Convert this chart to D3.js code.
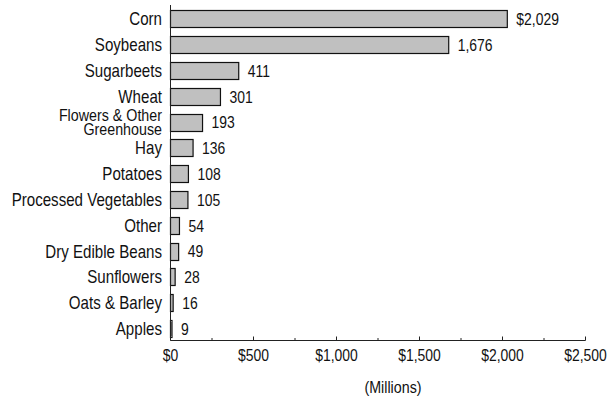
<!DOCTYPE html>
<html><head><meta charset="utf-8">
<script src="https://cdn.jsdelivr.net/npm/d3@7"></script>
<style>
html,body{margin:0;padding:0;background:#fff;}
svg text{font-family:"Liberation Sans",Arial,sans-serif;fill:#111;}
</style></head>
<body><svg id="c" width="608" height="401"></svg>
<script>
const categories = ["Corn","Soybeans","Sugarbeets","Wheat","Flowers & Other\nGreenhouse","Hay","Potatoes","Processed Vegetables","Other","Dry Edible Beans","Sunflowers","Oats & Barley","Apples"];
const values = [2029,1676,411,301,193,136,108,105,54,49,28,16,9];
const valueLabels = ["$2,029","1,676","411","301","193","136","108","105","54","49","28","16","9"];
const tickValues = [0,500,1000,1500,2000,2500];
const tickLabels = ["$0","$500","$1,000","$1,500","$2,000","$2,500"];
const minorTicks = [250,750,1250,1750,2250];
const axisTitle = "(Millions)";

const svg = d3.select("#c");
const x = d3.scaleLinear().domain([0,2500]).range([170.5,585.5]);
const y = d3.scaleBand().domain(categories).range([6.1,341.5]).paddingInner(0.33).paddingOuter(0.165);
const axisY = 340.5;
const SX = 0.82;

// bars
svg.append("g").selectAll("rect").data(values).join("rect")
  .attr("x", x(0))
  .attr("y", (d,i)=>Math.round(y(categories[i]))+0.5)
  .attr("width", d=>x(d)-x(0))
  .attr("height", Math.round(y.bandwidth()))
  .attr("fill","#c0c0c0").attr("stroke","#111").attr("stroke-width",1.2);

// value labels
svg.append("g").selectAll("text").data(values).join("text")
  .attr("transform", (d,i)=>`translate(${x(d)+9},${y(categories[i])+y.bandwidth()/2}) scale(${SX},1)`)
  .attr("dy","0.36em")
  .attr("font-size",17)
  .text((d,i)=>valueLabels[i]);

// category labels
const cl = svg.append("g").selectAll("text").data(categories).join("text")
  .attr("transform", d=>`translate(162,${y(d)+y.bandwidth()/2}) scale(0.84,1)`)
  .attr("text-anchor","end")
  .attr("font-size", d=>d.includes("\n") ? 17 : 18);
cl.each(function(d){
  const lines = d.split("\n");
  const t = d3.select(this);
  const fs = lines.length>1 ? 17 : 18;
  const lh = 14;
  lines.forEach((ln,j)=>{
    t.append("tspan").attr("x",0)
      .attr("dy", j===0 ? (0.36*fs - (lines.length-1)*lh/2)+"px" : lh+"px")
      .text(ln);
  });
});

// axes lines
svg.append("line").attr("x1",x(0)).attr("x2",x(0)).attr("y1",5).attr("y2",axisY).attr("stroke","#222").attr("stroke-width",1);
svg.append("line").attr("x1",x(0)).attr("x2",x(2500)).attr("y1",axisY).attr("y2",axisY).attr("stroke","#222").attr("stroke-width",1);

// ticks
svg.append("g").selectAll("line").data(tickValues).join("line")
  .attr("x1",d=>x(d)).attr("x2",d=>x(d)).attr("y1",axisY-4).attr("y2",axisY)
  .attr("stroke","#222");
svg.append("g").selectAll("line").data(minorTicks).join("line")
  .attr("x1",d=>x(d)).attr("x2",d=>x(d)).attr("y1",axisY-2.5).attr("y2",axisY)
  .attr("stroke","#222");
svg.append("g").selectAll("text").data(tickValues).join("text")
  .attr("transform", d=>`translate(${x(d)},361) scale(${SX},1)`)
  .attr("text-anchor","middle").attr("font-size",17)
  .text((d,i)=>tickLabels[i]);

svg.append("text").attr("transform","translate(393,393) scale(0.84,1)").attr("text-anchor","middle").attr("font-size",17).text(axisTitle);
</script></body></html>
